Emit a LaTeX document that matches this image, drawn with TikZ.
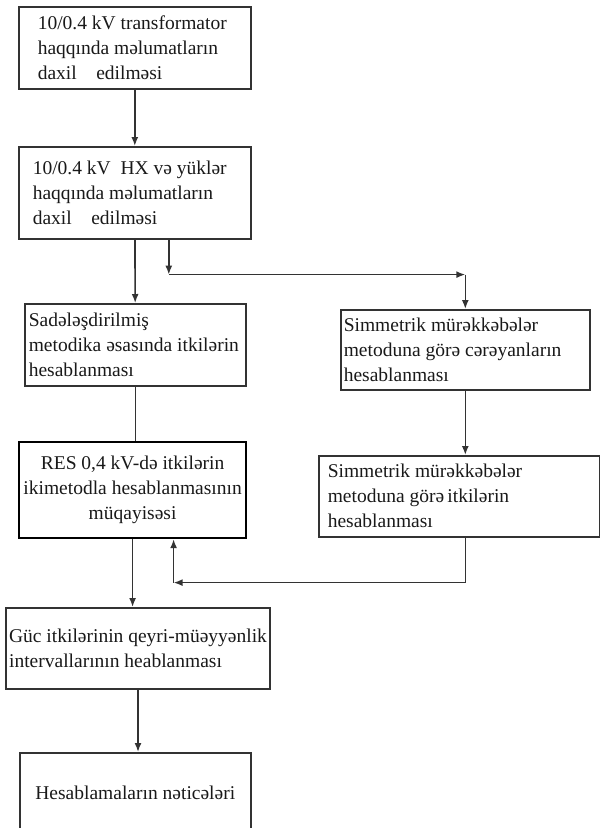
\documentclass[tikz,border=0pt]{standalone}
\usepackage{fontspec}
\setmainfont{Liberation Serif}
\usepackage{xcolor}
\usetikzlibrary{arrows.meta, positioning}

\begin{document}
\begin{tikzpicture}[
  x=1pt, y=-1pt,
  box/.style={draw=black!80, line width=1.6pt, anchor=north west, align=flush left, inner ysep=0pt,
    text=black!90, font=\fontsize{19.5}{25}\selectfont,
    execute at begin node={\spaceskip=\fontdimen2\font\relax}},
  arrow/.style={-{Latex[length=9pt,width=7pt]}},
  link/.style={draw=black!80, line width=1.6pt}
]
\useasboundingbox (0,0) rectangle (600,828);
\node[box, inner xsep=19pt, text width=194pt, minimum height=82pt] (input) at (18,6)
  {10/0.4 kV transformator\\haqqında məlumatların\\daxil\quad edilməsi};
\node[box, inner xsep=14pt, text width=204pt, minimum height=92pt] (loads) at (18,146)
  {10/0.4 kV\enspace HX və yüklər\\haqqında məlumatların\\daxil\quad edilməsi};
\node[box, inner xsep=4pt, text width=213pt, minimum height=82pt] (simple) at (24,303)
  {Sadələşdirilmiş\\metodika əsasında itkilərin\\hesablanması};
\node[box, line width=2.2pt, draw=black, align=flush center, inner xsep=2pt, text width=223pt, minimum height=96pt] (compare) at (18,441)
  {RES 0,4 kV-də itkilərin\\ikimetodla hesablanmasının\\müqayisəsi};
\node[box, inner xsep=3pt, text width=243pt, minimum height=80pt] (currents) at (340,309)
  {Simmetrik mürəkkəbələr\\metoduna görə cərəyanların\\hesablanması};
\node[box, inner xsep=9pt, text width=263pt, minimum height=81pt] (symloss) at (318,455)
  {Simmetrik mürəkkəbələr\\metoduna görə\,itkilərin\\hesablanması};
\node[box, minimum width=260pt, minimum height=81pt] (interval) at (5,607)
  {Güc itkilərinin qeyri-müəyyənlik\\intervallarının heablanması};
\node[box, align=flush center, minimum width=231pt, minimum height=80pt] (result) at (19,752)
  {Hesablamaların nəticələri};

% branch to the right column
\coordinate (tap) at ([xshift=34pt]loads.south);
\coordinate (bend) at ([yshift=-35pt]tap);
\coordinate (corner) at (bend -| currents.north);
% return to the comparison
\coordinate (back) at ([yshift=-45pt]symloss.south -| currents.south);
\coordinate (join) at ([xshift=41pt]compare.south);

\draw[link, arrow] (input) -- (loads);
\draw[link, arrow] (loads) -- (simple);
\draw[link] (simple.south) -- (simple.south |- compare.north);
\draw[link, arrow] (compare) -- (compare |- interval.north);
\draw[link, arrow] (interval) -- (interval |- result.north);
\draw[link, arrow] (tap) -- (bend);
\draw[link, arrow] (bend) -- (corner);
\draw[link, arrow] (corner) -- (currents);
\draw[link, arrow] (currents.south) -- (currents.south |- symloss.north);
\draw[link] (symloss.south -| back) -- (back);
\draw[link, arrow] (back) -- (back -| join);
\draw[link, arrow] (back -| join) -- (join);
\end{tikzpicture}
\end{document}
